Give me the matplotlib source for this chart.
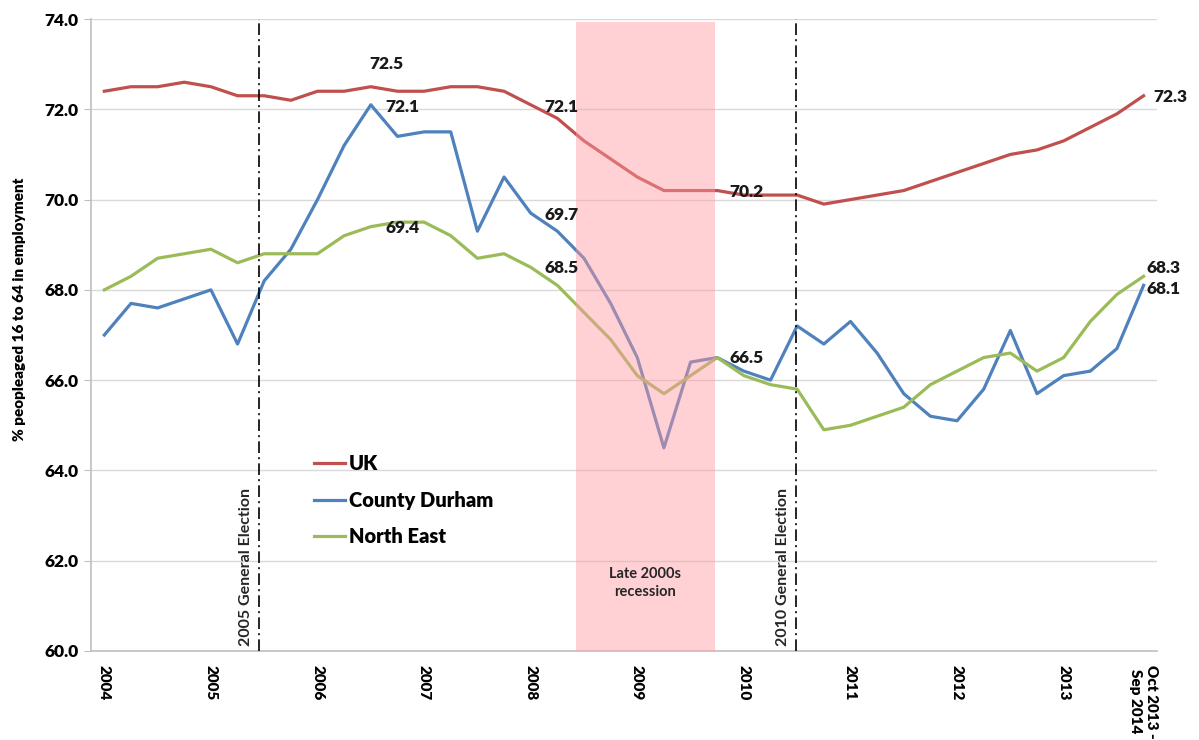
import numpy as np
import matplotlib
matplotlib.use("Agg")
import matplotlib.pyplot as plt

plt.rcParams['font.family'] = ['Lato', 'DejaVu Sans']

# Data: quarterly rolling years, 2004 -> Oct 2013-Sep 2014
uk = [72.4, 72.5, 72.5, 72.6, 72.5, 72.3, 72.3, 72.2, 72.4, 72.4,
      72.5, 72.4, 72.4, 72.5, 72.5, 72.4, 72.1, 71.8, 71.3, 70.9,
      70.5, 70.2, 70.2, 70.2, 70.1, 70.1, 70.1, 69.9, 70.0, 70.1,
      70.2, 70.4, 70.6, 70.8, 71.0, 71.1, 71.3, 71.6, 71.9, 72.3]
durham = [67.0, 67.7, 67.6, 67.8, 68.0, 66.8, 68.2, 68.9, 70.0, 71.2,
          72.1, 71.4, 71.5, 71.5, 69.3, 70.5, 69.7, 69.3, 68.7, 67.7,
          66.5, 64.5, 66.4, 66.5, 66.2, 66.0, 67.2, 66.8, 67.3, 66.6,
          65.7, 65.2, 65.1, 65.8, 67.1, 65.7, 66.1, 66.2, 66.7, 68.1]
north_east = [68.0, 68.3, 68.7, 68.8, 68.9, 68.6, 68.8, 68.8, 68.8, 69.2,
              69.4, 69.5, 69.5, 69.2, 68.7, 68.8, 68.5, 68.1, 67.5, 66.9,
              66.1, 65.7, 66.1, 66.5, 66.1, 65.9, 65.8, 64.9, 65.0, 65.2,
              65.4, 65.9, 66.2, 66.5, 66.6, 66.2, 66.5, 67.3, 67.9, 68.3]
tick_pos = [0, 4, 8, 12, 16, 20, 24, 28, 32, 36, 39]
tick_labels = ['2004', '2005', '2006', '2007', '2008', '2009', '2010',
               '2011', '2012', '2013', 'Oct 2013 -\nSep 2014']
elections = [(5.8, '2005 General Election'), (25.95, '2010 General Election')]
recession = (17.7, 22.9)

# value labels: (x, y, text, ha)
labels = [(10.6, 73.0, '72.5', 'center'), (11.2, 72.05, '72.1', 'center'),
          (11.2, 69.37, '69.4', 'center'), (17.15, 72.06, '72.1', 'center'),
          (17.15, 69.66, '69.7', 'center'), (17.15, 68.48, '68.5', 'center'),
          (24.1, 70.17, '70.2', 'center'), (24.1, 66.49, '66.5', 'center'),
          (39.35, 72.28, '72.3', 'left'), (39.1, 68.48, '68.3', 'left'),
          (39.1, 68.02, '68.1', 'left')]

x = np.arange(len(uk))

fig = plt.figure(figsize=(11.99, 7.4), dpi=100)
ax = fig.add_axes([0.0759, 0.1203, 0.889, 0.854])

ax.plot(x, uk, color='#C0504D', lw=2.3, label='UK', zorder=2)
ax.plot(x, durham, color='#4F81BD', lw=2.3, label='County Durham', zorder=2)
ax.plot(x, north_east, color='#9BBB59', lw=2.3, label='North East', zorder=2)

# recession band sits over the lines (tints them)
ax.axvspan(recession[0], recession[1], ymin=0, ymax=(73.93 - 60) / 14,
           facecolor='#ff9aa2', alpha=0.45, lw=0, zorder=3)
ax.text(sum(recession) / 2, 61.5, 'Late 2000s\nrecession', ha='center', va='center',
        fontsize=10.5, fontweight='bold', color='#262626', zorder=4, linespacing=1.4)

for xe, txt in elections:
    ax.axvline(xe, color='black', lw=1.2, ls=(0, (7, 2.5, 1.2, 2.5)), zorder=4)
    ax.text(xe - 0.5, 60.12, txt, rotation=90, ha='center', va='bottom',
            fontsize=11.5, fontweight='bold', color='#262626', zorder=4)

for lx, ly, txt, ha in labels:
    ax.text(lx, ly, txt, ha=ha, va='center', fontsize=12.5, fontweight='heavy',
            color='#1a1a1a', zorder=5)

ax.set_xlim(-0.5, 39.5)
ax.set_ylim(60, 74)
ax.set_yticks(np.arange(60, 74.1, 2))
ax.set_yticklabels([f'{v:.1f}' for v in np.arange(60, 74.1, 2)],
                   fontsize=12.5, fontweight='heavy')
ax.set_xticks(tick_pos)
ax.set_xticklabels(tick_labels, rotation=270, fontsize=11, fontweight='heavy')
ax.tick_params(axis='x', length=0, pad=10)
ax.tick_params(axis='y', length=5, color='#BFBFBF', pad=4)
ax.grid(axis='y', color='#D9D9D9', lw=1)
ax.set_axisbelow(True)
for s in ['top', 'right']:
    ax.spines[s].set_visible(False)
for s in ['left', 'bottom']:
    ax.spines[s].set_color('#BFBFBF')
    ax.spines[s].set_linewidth(1.2)

ax.set_ylabel('% peopleaged 16 to 64 in employment', fontsize=11, fontweight='heavy')
ax.yaxis.set_label_coords(-0.061, 0.54)

leg = ax.legend(loc='upper left', bbox_to_anchor=(0.1925, 0.340), frameon=False,
                prop={'size': 14.5, 'weight': 'heavy'}, handlelength=1.5,
                handletextpad=0.2, labelspacing=0.87)

fig.savefig('out.png', dpi=100)
